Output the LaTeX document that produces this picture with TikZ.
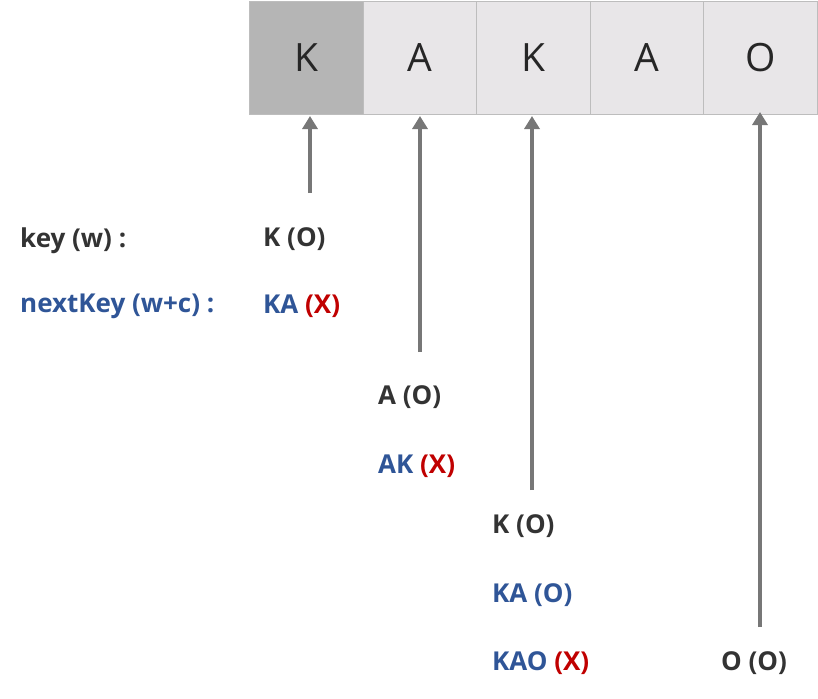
\documentclass[tikz,border=0pt]{standalone}
\usepackage{fontspec}
\setmainfont{Open Sans}
\newfontfamily\boxfont{Open Sans}
\usetikzlibrary{arrows.meta}
\definecolor{dk}{HTML}{333333}
\definecolor{bl}{HTML}{2F5597}
\definecolor{rd}{HTML}{C00000}
\definecolor{ar}{HTML}{777777}
\definecolor{cellA}{HTML}{B5B5B5}
\definecolor{cellB}{HTML}{E8E6E8}
\definecolor{cellline}{HTML}{BDBDBD}
\begin{document}
\begin{tikzpicture}[x=1pt,y=-1pt,
  cell/.style={draw=cellline,line width=1pt,minimum width=113.4pt,minimum height=112pt,inner sep=0,font=\boxfont\fontsize{39}{41}\selectfont,text=black!85},
  lbl/.style={anchor=west,inner sep=0,font=\bfseries\fontsize{26}{28}\selectfont,text=dk},
  bluelbl/.style={lbl,text=bl},
  ptr/.style={draw=ar,line width=3.5pt,-{Triangle[width=15pt,length=13pt]}}]
\useasboundingbox (0,0) rectangle (818,698);
\node[cell,fill=cellA] (c1) at (306.5,58) {K};
\node[cell,fill=cellB] (c2) at (420,58) {A};
\node[cell,fill=cellB] (c3) at (533.5,58) {K};
\node[cell,fill=cellB] (c4) at (647,58) {A};
\node[cell,fill=cellB] (c5) at (760.5,58) {O};
\node[lbl] (key) at (20,241) {key (w) :};
\node[bluelbl] (nkey) at (20,306) {nextKey (w+c) :};
\node[lbl] (k1) at (263,239) {K (O)};
\node[bluelbl] (n1) at (263,306) {KA \textcolor{rd}{(X)}};
\node[lbl] (k2) at (378,397) {A (O)};
\node[bluelbl] (n2) at (378,466) {AK \textcolor{rd}{(X)}};
\node[lbl] (k3) at (492,526) {K (O)};
\node[bluelbl] (n3) at (492,595) {KA (O)};
\node[bluelbl] (n3b) at (492,663) {KAO \textcolor{rd}{(X)}};
\node[lbl] (k5) at (721,663) {O (O)};
\coordinate (s1) at (310,193);
\coordinate (s2) at (420,352);
\coordinate (s3) at (532,490);
\coordinate (s5) at (760,627);
\draw[ptr] (s1) -- (s1 |- 0,116);
\draw[ptr] (s2) -- (s2 |- 0,116);
\draw[ptr] (s3) -- (s3 |- 0,116);
\draw[ptr] (s5) -- (s5 |- 0,112);
\end{tikzpicture}
\end{document}
